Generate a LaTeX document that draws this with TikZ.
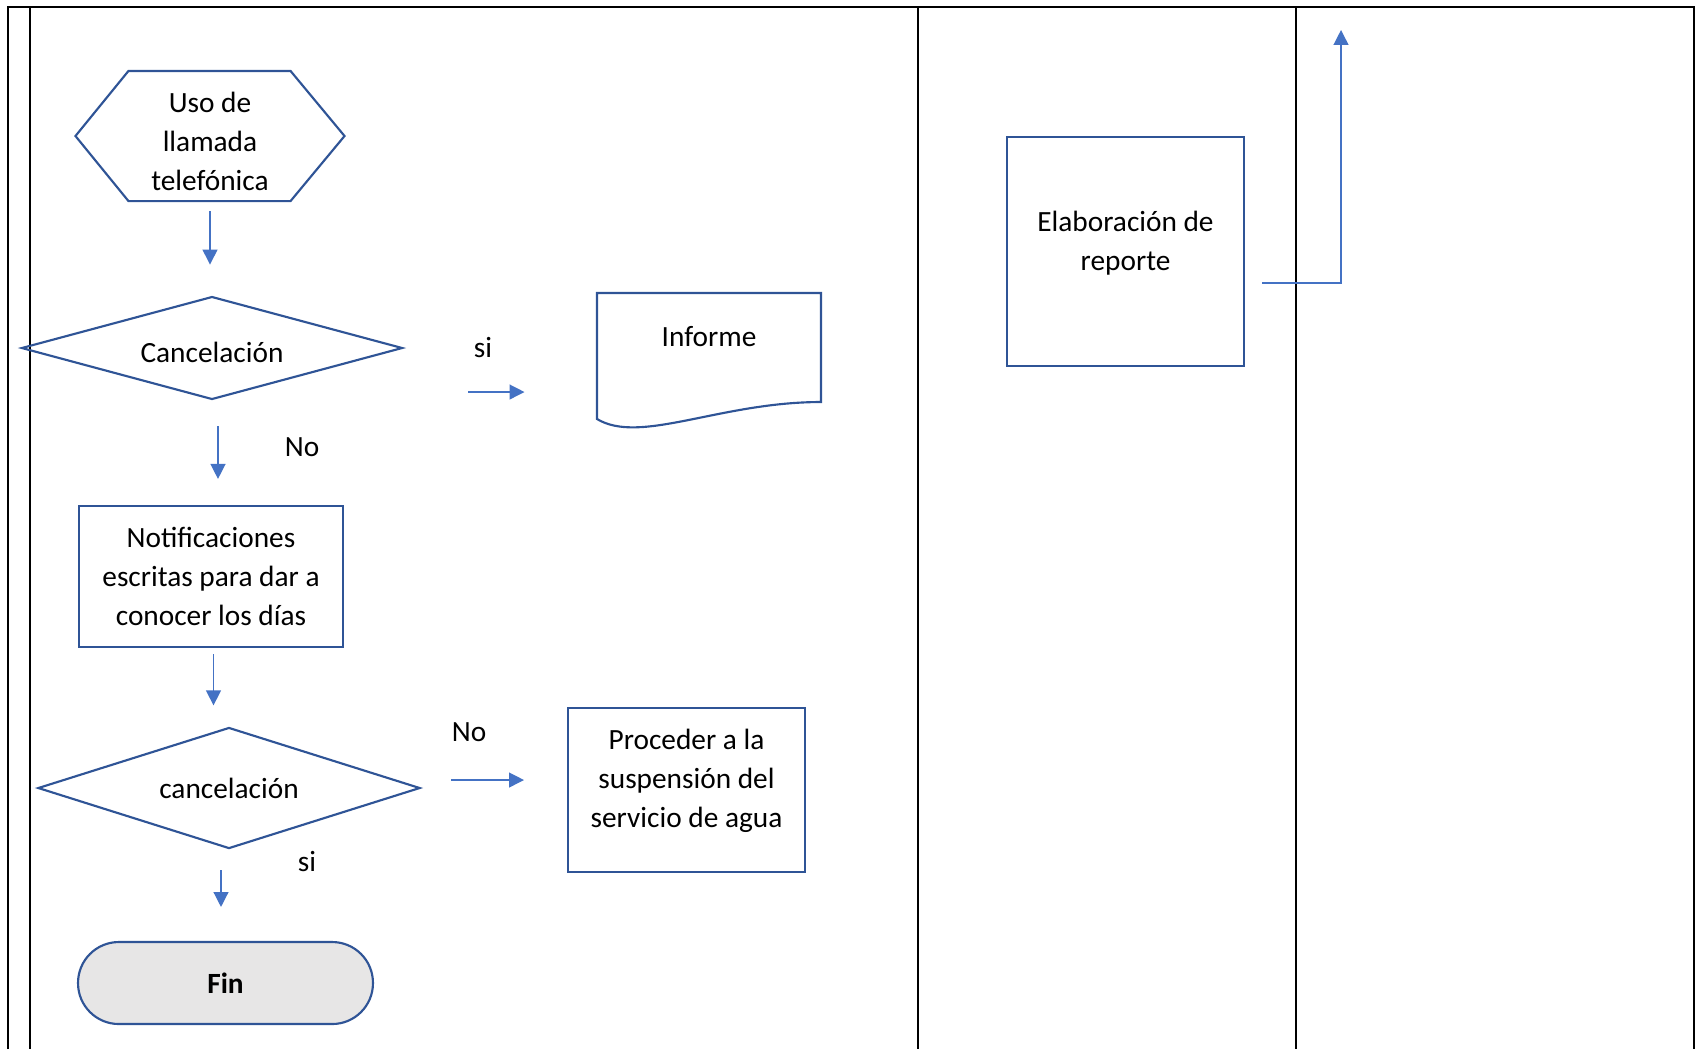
\documentclass[tikz,border=0pt]{standalone}
\usepackage{fontspec}
\setmainfont{Carlito}
\usetikzlibrary{arrows.meta,positioning,calc,shapes.geometric}

\definecolor{borde}{HTML}{2F5496}
\definecolor{azulflecha}{HTML}{4472C4}
\definecolor{grisfin}{HTML}{E7E6E6}

\begin{document}
\begin{tikzpicture}[x=0.375pt,y=-0.375pt,
    every node/.style={font=\fontsize{11pt}{14.6pt}\selectfont},
    caja/.style={draw=borde,line width=0.8pt,rectangle,align=center,inner sep=0pt},
    rombo/.style={draw=borde,line width=0.8pt,diamond,aspect=3.5,inner sep=0pt},
    flecha/.style={draw=azulflecha,line width=0.5pt,-{Triangle[length=5.6pt,width=5.6pt]}},
    etiqueta/.style={anchor=base,inner sep=0pt},
    linea/.style={line width=1pt}]
      \useasboundingbox (0,0) rectangle (1699,1049);

      % marco de la tabla
      \draw[linea] (8,1049) -- (8,7) -- (1694,7) -- (1694,1049);
      \draw[linea] (30,7) -- (30,1049);
      \draw[line width=0.8pt] (918,7) -- (918,1049);
      \draw[line width=0.8pt] (1296,7) -- (1296,1049);

      % primera columna
      \node[align=center,minimum width=100.5pt,minimum height=48.4pt,inner sep=0pt,text height=40.6pt] (uso) at (210,136) {Uso de\\llamada\\telefónica};
      \draw[borde,line width=0.8pt] (uso.west) -- ($(uso.north west)+(53,0)$) -- ($(uso.north east)+(-54,0)$)
        -- (uso.east) -- ($(uso.south east)+(-54,0)$) -- ($(uso.south west)+(53,0)$) -- cycle;

      \node[rombo,minimum width=142.9pt,minimum height=38.6pt,text height=10.6pt] (canc1) at (212,348) {Cancelación};
      \draw[flecha,shorten <=3.75pt,shorten >=11.6pt] (uso.south) -- (uso.south |- canc1.north);

      \node[minimum width=84pt,inner sep=0pt] (informe) at (709,337) {Informe};
      \draw[borde,line width=0.8pt] ($(informe)+(-112,82)$) -- ($(informe)+(-112,-44)$) -- ($(informe)+(112,-44)$)
        -- ($(informe)+(112,65)$) .. controls ($(informe)+(11,65)$) and ($(informe)+(-69,108)$) .. cycle;

      \coordinate (si1) at (468,392);
      \draw[flecha,shorten >=27pt] (si1) -- (si1 -| informe.west);
      \node[etiqueta] (lsi1) at (483,357) {si};

      \node[caja,minimum width=99pt,minimum height=52.9pt] (nota) at (211,576.5) {Notificaciones\\escritas para dar a\\conocer los días};
      \coordinate (no1) at (218,426);
      \draw[flecha,shorten >=9.75pt] (no1) -- (no1 |- nota.north);
      \node[etiqueta] (lno1) at (302,456) {No};

      \node[rombo,minimum width=143.3pt,minimum height=45.4pt] (canc2) at (229,788) {cancelación};
      \draw[flecha,shorten <=2.25pt,shorten >=7.9pt] ($(nota.south)+(2.5,0)$) -- ($(nota.south |- canc2.north)+(2.5,0)$);

      \node[caja,minimum width=88.9pt,minimum height=61.5pt,text depth=8.6pt] (proc) at (686.5,790) {Proceder a la\\suspensión del\\servicio de agua};
      \coordinate (no2) at (451,780);
      \draw[flecha,shorten >=16.1pt] (no2) -- (no2 -| proc.west);
      \node[etiqueta] (lno2) at (469,741) {No};

      \node[draw=borde,line width=0.8pt,fill=grisfin,rounded corners=15.3pt,minimum width=110.6pt,minimum height=30.75pt,
        font=\fontsize{11pt}{14.6pt}\selectfont\bfseries] (fin) at (225.5,983) {Fin};
      \coordinate (si2) at (221,870);
      \draw[flecha,shorten >=12.75pt] (si2) -- (si2 |- fin.north);
      \node[etiqueta] (lsi2) at (307,871) {si};

      % segunda columna
      \node[caja,minimum width=88.9pt,minimum height=85.9pt,text depth=7.9pt] (elab) at (1125.5,251.5) {Elaboración de\\reporte};
      \coordinate (rep) at (1262,283);
      \coordinate (arriba) at (1341,30);
      \draw[flecha] (rep) -| (arriba);
\end{tikzpicture}
\end{document}
